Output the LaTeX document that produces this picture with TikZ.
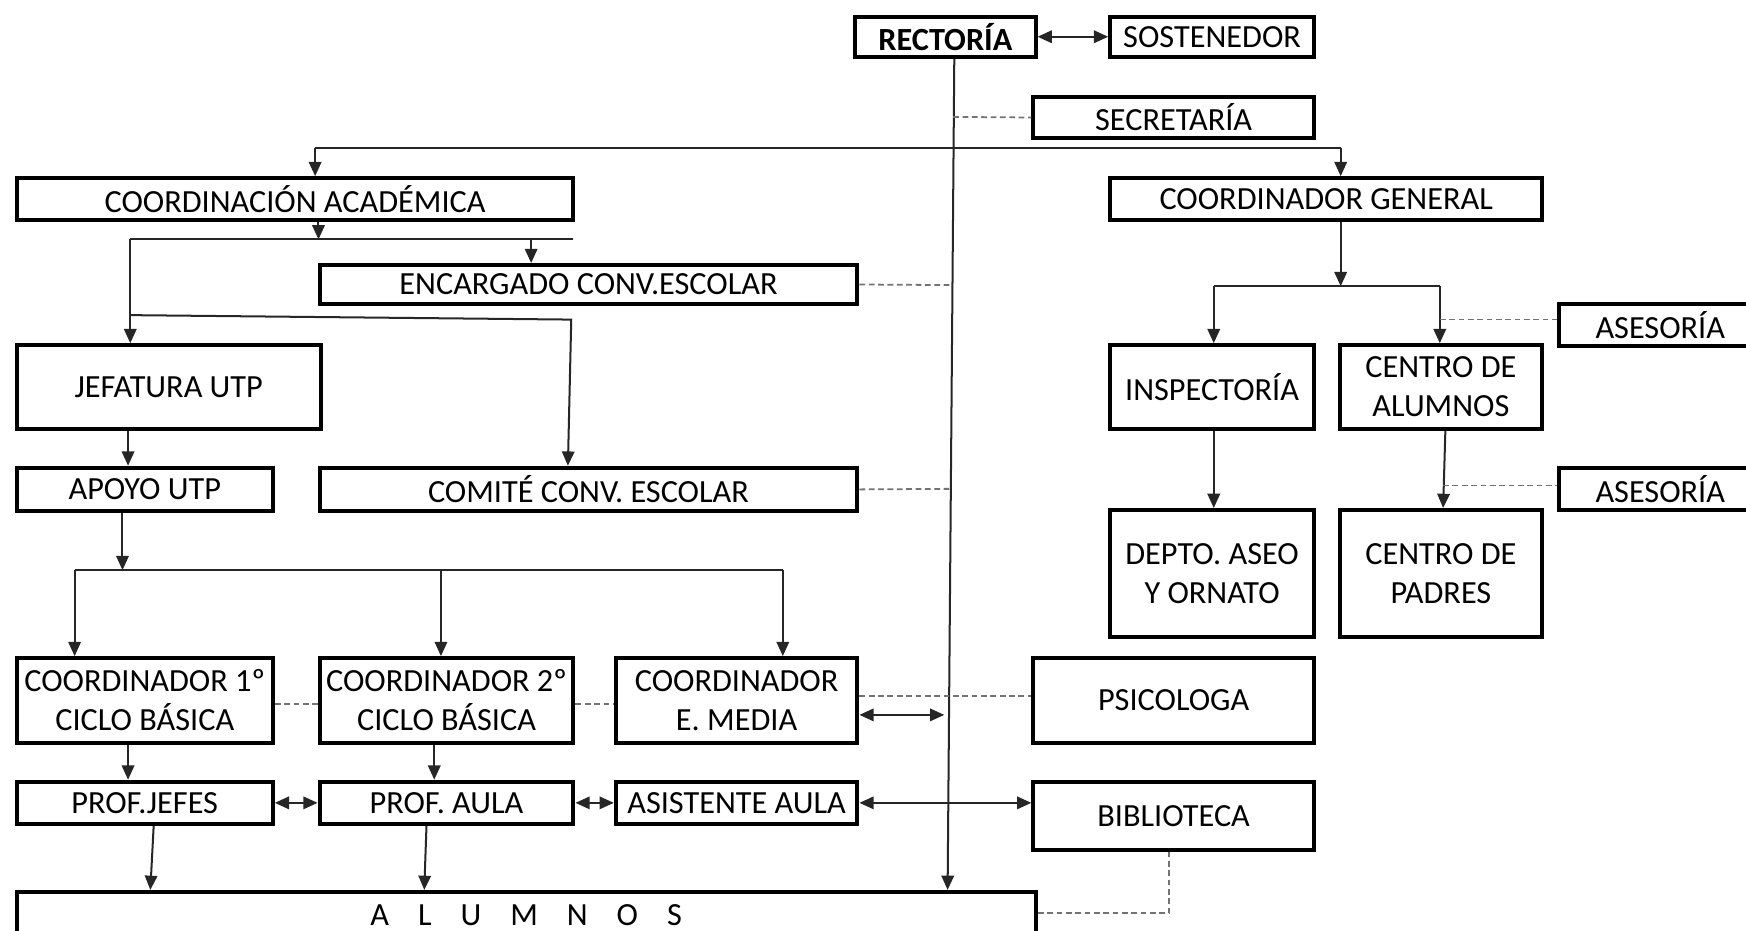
\documentclass[tikz,border=0pt]{standalone}
\usepackage{fontspec}
\setmainfont{Carlito}
\usetikzlibrary{arrows.meta}
\tikzset{
  boxst/.style={draw=black, line width=1.8pt, fill=white, inner sep=1pt, align=center,
    font=\fontsize{14.5}{17.5}\selectfont},
  conn/.style={draw=black!85, line width=0.9pt},
  arr/.style={conn, -{Triangle[length=6.4pt,width=5.6pt]}},
  dbl/.style={conn, {Triangle[length=6.4pt,width=5.6pt]}-{Triangle[length=6.4pt,width=5.6pt]}},
  dsh/.style={draw=black!55, line width=0.8pt, dash pattern=on 2.6pt off 1.6pt}
}
\newcommand\mybox[6]{\node[boxst, minimum width={(#4-#2)*0.5pt}, minimum height={(#5-#3)*0.5pt}] (#1) at ({(#2+#4)/2},{(#3+#5)/2}) {#6};}
\begin{document}
\begin{tikzpicture}[x=0.5pt,y=-0.5pt]
\useasboundingbox (0,0) rectangle (1568,836);
\clip (0,0) rectangle (1568,836);
% boxes
\mybox{rect}{768}{15}{930}{51}{\textbf{RECTORÍA}}
\mybox{sost}{997}{15}{1180}{51}{SOSTENEDOR}
\mybox{secr}{928}{87}{1180}{124}{SECRETARÍA}
\mybox{ca}{15}{160}{515}{198}{COORDINACIÓN ACADÉMICA}
\mybox{cg}{997}{160}{1385}{198}{COORDINADOR GENERAL}
\mybox{enc}{287}{238}{770}{273}{ENCARGADO CONV.ESCOLAR}
\mybox{jef}{15}{310}{288}{385}{JEFATURA UTP}
\mybox{apo}{15}{420}{245}{459}{APOYO UTP}
\mybox{com}{287}{420}{770}{459}{COMITÉ CONV. ESCOLAR}
\mybox{insp}{997}{310}{1180}{385}{INSPECTORÍA}
\mybox{cal}{1203}{310}{1385}{385}{CENTRO DE\\ALUMNOS}
\mybox{aseA}{1400}{273}{1600}{311}{\hspace*{-9pt}ASESORÍA}
\mybox{aseB}{1400}{420}{1600}{458}{\hspace*{-9pt}ASESORÍA}
\mybox{dep}{997}{458}{1180}{572}{DEPTO. ASEO\\Y ORNATO}
\mybox{cpa}{1203}{458}{1385}{572}{CENTRO DE\\PADRES}
\mybox{cA}{15}{591}{245}{667}{COORDINADOR 1º\\CICLO BÁSICA}
\mybox{cB}{287}{591}{515}{667}{COORDINADOR 2º\\CICLO BÁSICA}
\mybox{cM}{553}{591}{770}{667}{COORDINADOR\\E. MEDIA}
\mybox{psi}{928}{591}{1180}{667}{PSICOLOGA}
\mybox{pj}{15}{702}{245}{740}{PROF.JEFES}
\mybox{pa}{287}{702}{515}{740}{PROF. AULA}
\mybox{as}{553}{702}{770}{740}{ASISTENTE AULA}
\mybox{bib}{928}{702}{1180}{763}{BIBLIOTECA}
\mybox{al}{15}{801}{930}{842}{A\hspace{13pt}L\hspace{13pt}U\hspace{13pt}M\hspace{13pt}N\hspace{13pt}O\hspace{13pt}S}
% coordinates
\coordinate (rl1) at (856,105);
\coordinate (rl2) at (855,256);
\coordinate (rl3) at (854,439);
\coordinate (cmR) at (848,642);
\coordinate (tbL) at (283,133);
\coordinate (tbR) at (1204,133);
\coordinate (b2m) at (286,215);
\coordinate (b2L) at (117,215);
\coordinate (b2R) at (515,215);
\coordinate (b2e) at (477,215);
\coordinate (b3L) at (117,283);
\coordinate (b3R) at (513,287);
\coordinate (b3c) at (510,0);
\coordinate (ja) at (115,0);
\coordinate (b4m) at (110,512);
\coordinate (b4L) at (67,512);
\coordinate (b4c) at (396,512);
\coordinate (b4R) at (703,512);
\coordinate (xA) at (115,0);
\coordinate (xB) at (390,0);
\coordinate (yd1) at (0,632);
\coordinate (yd2) at (0,625);
\coordinate (yd3) at (0,642);
\coordinate (pj1) at (138,0);
\coordinate (pj2) at (135,0);
\coordinate (pa1) at (383,0);
\coordinate (pa2) at (381,0);
\coordinate (bd) at (1050,820);
\coordinate (rs) at (857,0);
\coordinate (ra) at (851,0);
\coordinate (b5m) at (1204,257);
\coordinate (b5L) at (1090,257);
\coordinate (b5R) at (1293,257);
\coordinate (yA) at (0,287);
\coordinate (yB) at (0,436);
\coordinate (xi) at (1090,0);
\coordinate (xc1) at (1298,0);
\coordinate (xc2) at (1296,0);
% connectors
\draw[dbl] (rect.east) -- (sost.west);
\draw[arr] (rs |- rect.south) -- (ra |- al.north);
\draw[dsh] (rl1) -- (secr.west);
\draw[conn] (tbL) -- (tbR);
\draw[arr] (tbL) -- (tbL |- ca.north);
\draw[arr] (tbR) -- (tbR |- cg.north);
\draw[arr] (b2m |- ca.south) -- (b2m);
\draw[conn] (b2L) -- (b2R);
\draw[arr] (b2e) -- (b2e |- enc.north);
\draw[arr] (b2L) -- (b2L |- jef.north);
\draw[dsh] (enc.east) -- (rl2);
\draw[arr] (b3L) -- (b3R) -- (b3c |- com.north);
\draw[dsh] (com.east) -- (rl3);
\draw[arr] (ja |- jef.south) -- (ja |- apo.north);
\draw[arr] (b4m |- apo.south) -- (b4m);
\draw[conn] (b4L) -- (b4R);
\draw[arr] (b4L) -- (b4L |- cA.north);
\draw[arr] (b4c) -- (b4c |- cB.north);
\draw[arr] (b4R) -- (b4R |- cM.north);
\draw[dsh] (yd1 -| cA.east) -- (yd1 -| cB.west);
\draw[dsh] (yd1 -| cB.east) -- (yd1 -| cM.west);
\draw[dsh] (yd2 -| cM.east) -- (yd2 -| psi.west);
\draw[dbl] (yd3 -| cM.east) -- (cmR);
\draw[arr] (xA |- cA.south) -- (xA |- pj.north);
\draw[arr] (xB |- cB.south) -- (xB |- pa.north);
\draw[dbl] (pj.east) -- (pa.west);
\draw[dbl] (pa.east) -- (as.west);
\draw[dbl] (as.east) -- (bib.west |- as.east);
\draw[arr] (pj1 |- pj.south) -- (pj2 |- al.north);
\draw[arr] (pa1 |- pa.south) -- (pa2 |- al.north);
\draw[dsh] (bd |- bib.south) -- (bd) -- (bd -| al.east);
\draw[arr] (b5m |- cg.south) -- (b5m);
\draw[conn] (b5L) -- (b5R);
\draw[arr] (b5L) -- (b5L |- insp.north);
\draw[arr] (b5R) -- (b5R |- cal.north);
\draw[dsh] (yA -| b5R) -- (yA -| aseA.west);
\draw[arr] (xi |- insp.south) -- (xi |- dep.north);
\draw[arr] (xc1 |- cal.south) -- (xc2 |- cpa.north);
\draw[dsh] (yB -| xc2) -- (yB -| aseB.west);
\end{tikzpicture}
\end{document}
